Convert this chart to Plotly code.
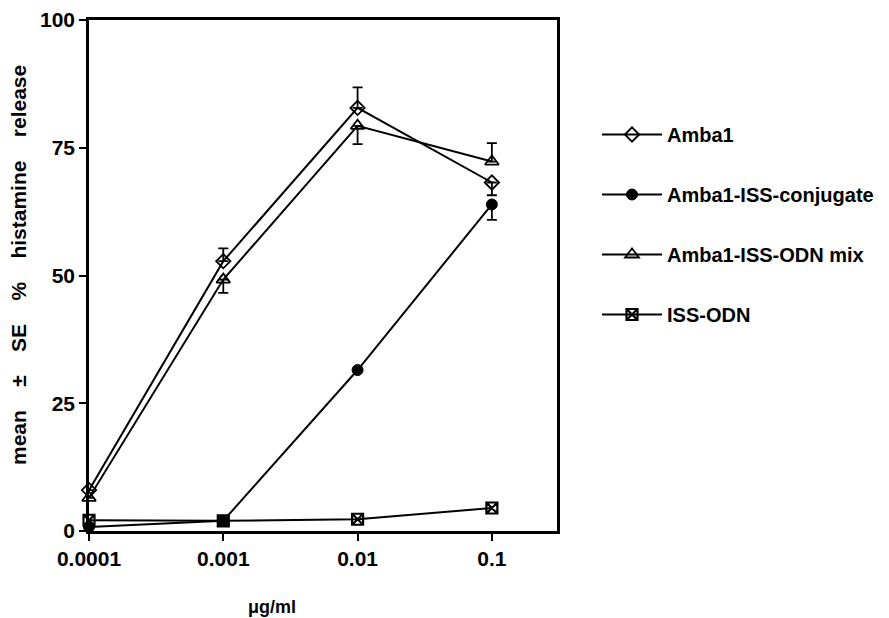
import plotly.graph_objects as go

# ---- data ----
concentrations = [0.0001, 0.001, 0.01, 0.1]
x_tick_labels = ["0.0001", "0.001", "0.01", "0.1"]
y_tick_values = [0, 25, 50, 75, 100]

amba1 = [8.0, 52.8, 82.8, 68.2]
amba1_err_plus = [0, 2.5, 4.0, 0]
amba1_err_minus = [0, 0, 0, 2.5]

conjugate = [0.8, 2.0, 31.5, 63.9]
conjugate_err_plus = [0, 0, 0, 0]
conjugate_err_minus = [0, 0, 0, 3.0]

odn_mix = [6.5, 49.2, 79.3, 72.3]
odn_mix_err_plus = [0, 0, 0, 3.6]
odn_mix_err_minus = [0, 2.6, 3.6, 0]

iss_odn = [2.1, 2.0, 2.3, 4.5]

series = [
    ("Amba1", amba1, amba1_err_plus, amba1_err_minus,
     dict(symbol="diamond-open", size=11, color="black", line=dict(width=1.8, color="black"))),
    ("Amba1-ISS-conjugate", conjugate, conjugate_err_plus, conjugate_err_minus,
     dict(symbol="circle", size=11, color="black", line=dict(width=1, color="black"))),
    ("Amba1-ISS-ODN mix", odn_mix, odn_mix_err_plus, odn_mix_err_minus,
     dict(symbol="triangle-up-open", size=12, color="black", line=dict(width=1.8, color="black"))),
    ("ISS-ODN", iss_odn, None, None,
     dict(symbol="square-x-open", size=11, color="black", line=dict(width=2.2, color="black"))),
]

FONT = "Liberation Sans, Arial, Helvetica, sans-serif"
NB = "\u00a0\u00a0\u00a0 "

# page body has an 8px margin; work in figure coordinates
OFF = 8
FW, FH = 889 - OFF, 618 - OFF
L, R, T, B = 89 - OFF, 557 - OFF, 20 - OFF, 531 - OFF
W, H = R - L, B - T

fig = go.Figure()
for i, (name, vals, ep, em, mk) in enumerate(series):
    err = None
    if ep is not None:
        err = dict(type="data", symmetric=False, array=ep, arrayminus=em,
                   color="black", thickness=1.8, width=5)
    fig.add_trace(go.Scatter(
        x=concentrations, y=vals, name=name, mode="lines+markers",
        line=dict(color="black", width=2),
        marker=mk, error_y=err, cliponaxis=False,
        legendgroup=f"g{i}",
    ))

y_title = "mean" + NB + "±" + NB + "SE" + NB + "%" + NB + "histamine" + NB + "release"

fig.update_layout(
    width=FW, height=FH,
    margin=dict(l=L, r=FW - R, t=T, b=FH - B, autoexpand=False),
    paper_bgcolor="white", plot_bgcolor="white",
    font=dict(family=FONT, color="black", size=18, weight="bold"),
    showlegend=True,
    legend=dict(
        x=(597 - OFF - L) / W, y=1 - (115 - 20) / 511, xanchor="left", yanchor="top",
        font=dict(family=FONT, size=20, color="black", weight="bold"),
        tracegroupgap=31, itemwidth=60,
        bgcolor="rgba(0,0,0,0)",
    ),
    xaxis=dict(
        type="log", range=[-4, -0.515], automargin=False,
        tickmode="array", tickvals=concentrations, ticktext=x_tick_labels,
        ticks="outside", ticklen=7, tickwidth=2, tickcolor="black",
        showline=True, linecolor="black", linewidth=2.5, mirror=True,
        showgrid=False, zeroline=False,
        tickfont=dict(family=FONT, size=21, color="black", weight="bold"),
    ),
    yaxis=dict(
        range=[0, 100], automargin=False,
        tickmode="array", tickvals=y_tick_values,
        ticks="outside", ticklen=7, tickwidth=2, tickcolor="black",
        showline=True, linecolor="black", linewidth=2.5, mirror=True,
        showgrid=False, zeroline=False,
        tickfont=dict(family=FONT, size=21, color="black", weight="bold"),
    ),
    annotations=[
        dict(text=y_title, xref="paper", yref="paper",
             x=(18 - OFF - L) / W, y=(B - (265 - OFF)) / H, textangle=-90,
             xanchor="center", yanchor="middle", showarrow=False,
             font=dict(family=FONT, size=21, color="black", weight="bold")),
        dict(text="μg/ml", xref="paper", yref="paper",
             x=(272 - OFF - L) / W, y=-((607 - OFF) - B) / H,
             xanchor="center", yanchor="middle", showarrow=False,
             font=dict(family=FONT, size=18, color="black", weight="bold")),
    ],
)

fig.write_html("out.html")
